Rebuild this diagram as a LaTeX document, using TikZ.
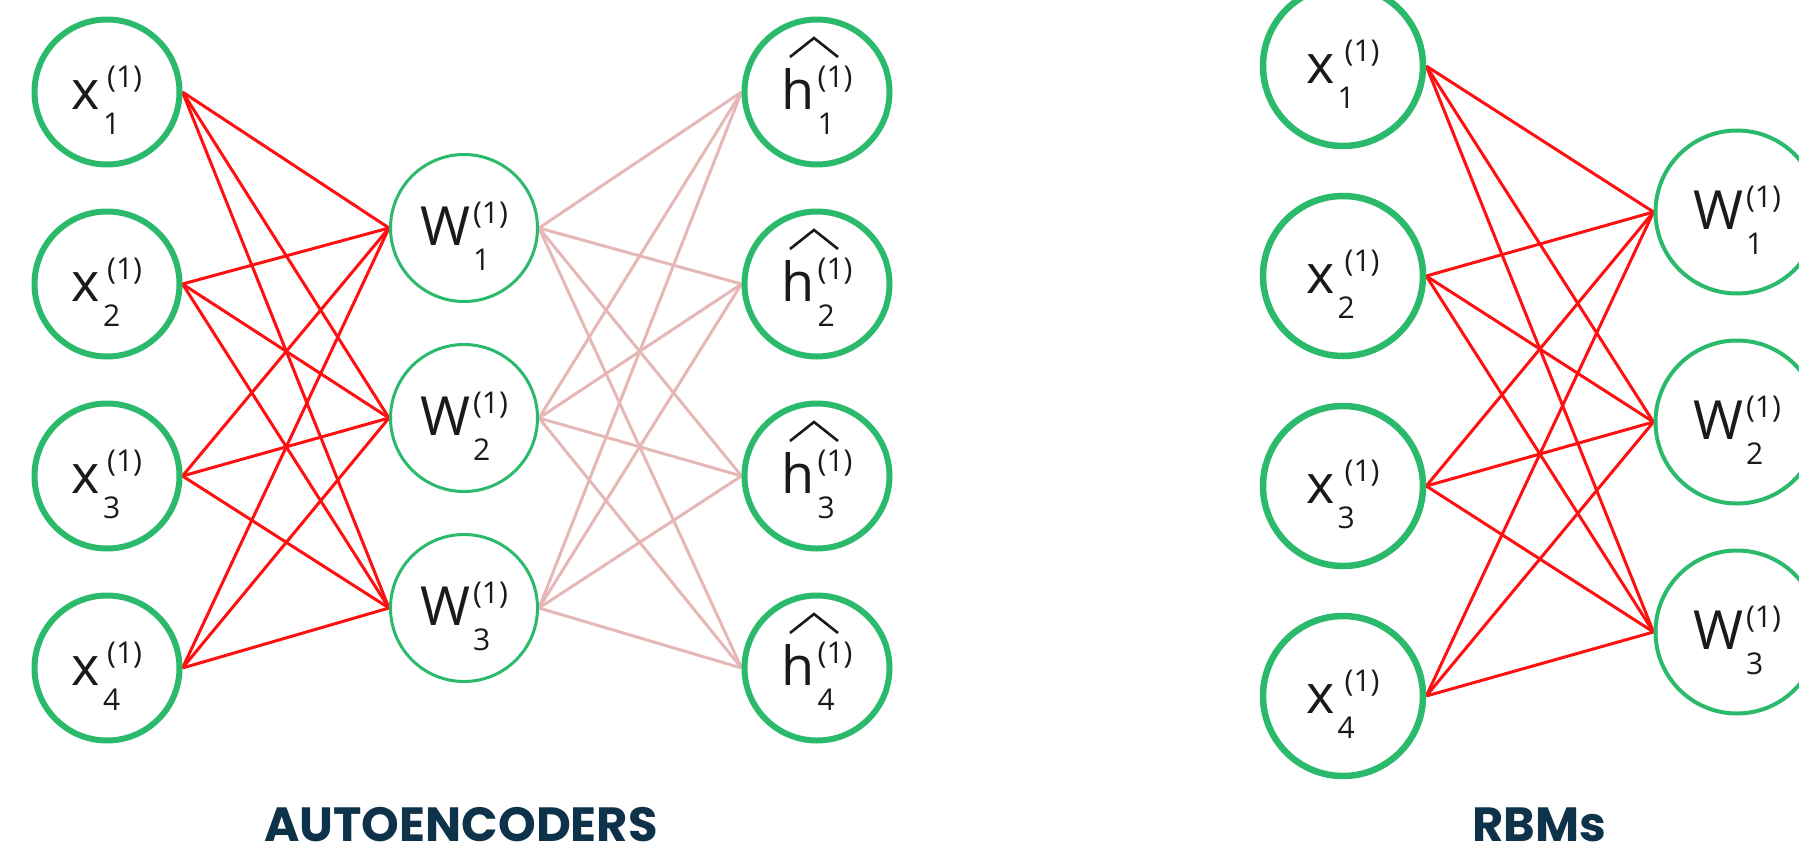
\documentclass[tikz,border=0pt]{standalone}
\usepackage{fontspec}
\usetikzlibrary{backgrounds}
\newfontfamily\lblfont{Open Sans}
\newfontfamily\capfont{Poppins}

\definecolor{nodegreen}{HTML}{2BBA6B}
\definecolor{wirered}{HTML}{FF1010}
\definecolor{wirepink}{HTML}{E6B7B7}
\definecolor{capnavy}{HTML}{0E3249}
\definecolor{ink}{HTML}{1A1A1A}

% index font for sub- and superscripts
\newcommand\idxsz{\fontsize{30}{30}\selectfont}
% variable #2 with subscript #3 and superscript (#4); #1 = extra gap before the superscript
\newcommand\varlbl[4][0pt]{\mbox{#2\kern3pt\rlap{\raisebox{-25pt}{\idxsz #3}}\kern#1\raisebox{22pt}{\idxsz (#4)}}}

\tikzset{
  unit/.style={circle, draw=nodegreen, fill=white, inner sep=0pt, text=ink,
    text height=54pt, text depth=20pt,
    font=\lblfont\fontsize{54}{54}\selectfont},
  thickunit/.style={unit, line width=6pt, minimum size=145pt},
  thinunit/.style={unit, line width=3pt, minimum size=147pt},
  rbmvis/.style={unit, line width=6.5pt, minimum size=160pt},
  rbmhid/.style={unit, line width=4pt, minimum size=163pt},
  redwire/.style={draw=wirered, line width=3pt},
  pinkwire/.style={draw=wirepink, line width=3pt},
  hatmark/.style={draw=ink, line width=2.6pt, line join=miter},
  caption/.style={anchor=base, text=capnavy, inner sep=0pt,
    font=\capfont\bfseries\fontsize{48}{48}\selectfont},
}

\begin{document}
\begin{tikzpicture}[x=1pt, y=-1pt]
  \useasboundingbox (0,0) rectangle (1799,846);
  \clip (0,0) rectangle (1799,846);

  % ---------- autoencoder ----------
  \foreach \k/\y in {1/92, 2/284, 3/476, 4/668} {
    \node[thickunit] (ax\k) at (107,\y) {\varlbl[4pt]{x}{\k}{1}};
    \node[thickunit] (ah\k) at (817,\y) {\varlbl{h}{\k}{1}};
    % wide hat over the reconstructed unit
    \draw[hatmark] ([shift={(-27,-35)}]ah\k.center)
      -- ([shift={(-3,-54)}]ah\k.center) -- ([shift={(21,-35)}]ah\k.center);
  }
  \foreach \k/\y in {1/228, 2/418, 3/608}
    \node[thinunit] (aw\k) at (464,\y) {\varlbl{W}{\k}{1}};

  \begin{scope}[on background layer]
    \foreach \i in {1,...,4}
      \foreach \j in {1,2,3} {
        \draw[redwire] (ax\i.east) -- (aw\j.west);
        \draw[pinkwire] (aw\j.east) -- (ah\i.west);
      }
  \end{scope}

  \node[caption] (aecap) at (461,841) {AUTOENCODERS};

  % ---------- restricted Boltzmann machine ----------
  \foreach \k/\y in {1/66, 2/276, 3/486, 4/696}
    \node[rbmvis] (rx\k) at (1343,\y) {\varlbl[7pt]{x}{\k}{1}};
  \foreach \k/\y in {1/212, 2/422, 3/632}
    \node[rbmhid] (rw\k) at (1737,\y) {\varlbl{W}{\k}{1}};

  \begin{scope}[on background layer]
    \foreach \i in {1,...,4}
      \foreach \j in {1,2,3}
        \draw[redwire] (rx\i.east) -- (rw\j.west);
  \end{scope}

  \node[caption] (rbmcap) at (1539,841) {RBMs};
\end{tikzpicture}
\end{document}
